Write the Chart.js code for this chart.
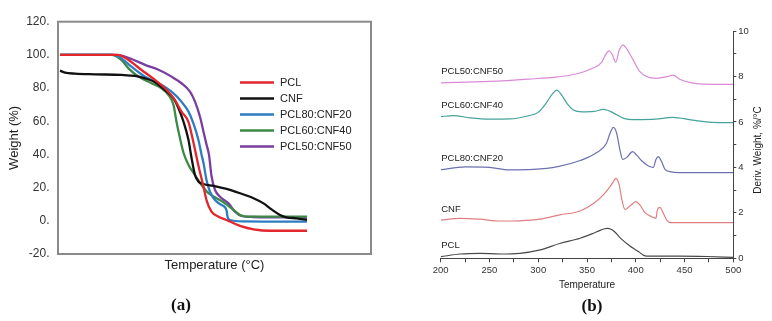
<!DOCTYPE html>
<html><head><meta charset="utf-8">
<script src="https://cdn.jsdelivr.net/npm/chart.js@4.4.1/dist/chart.umd.min.js"></script>
<style>
html,body{margin:0;padding:0;background:#fff;}
#wrap{position:relative;width:772px;height:321px;overflow:hidden;background:#fff;}
#boxA{position:absolute;left:0;top:0;width:390px;height:321px;}
#boxB{position:absolute;left:390px;top:0;width:382px;height:321px;}
.panel{position:absolute;font-family:"Liberation Serif","Times New Roman",serif;font-weight:bold;font-size:17px;color:#111;transform:translate(-50%,-50%);white-space:nowrap;}
</style></head><body>
<div id="wrap">
<div id="boxA"><canvas id="cA" width="390" height="321"></canvas></div>
<div id="boxB"><canvas id="cB" width="382" height="321"></canvas></div>
<div class="panel" style="left:181px;top:305px">(a)</div>
<div class="panel" style="left:592px;top:306px">(b)</div>
</div>
<script>
// ---------- Panel (a): TGA ----------
const tgaNames = ['PCL', 'CNF', 'PCL80:CNF20', 'PCL60:CNF40', 'PCL50:CNF50'];
const tgaColors = ['#e2262c', '#111111', '#2e7dc0', '#3d8a47', '#7a3ea1'];
const weightTickLabels = ['-20.', '0.', '20.', '40.', '60.', '80.', '100.', '120.'];

const pclTemp = [24, 140, 161, 187, 214, 234, 254, 267, 281, 291, 301, 311, 317, 327, 341, 357, 384, 411, 444, 518];
const pclWeight = [100, 100, 96.9, 90.9, 84.9, 79.9, 72.8, 65.8, 59.5, 47, 33, 20.6, 12.5, 5.5, 2.5, 0.5, -3.1, -5.1, -6, -6];

const cnfTemp = [24, 34, 54, 94, 147, 174, 194, 214, 234, 251, 261, 271, 281, 287, 294, 301, 311, 331, 357, 384, 411, 431, 447, 464, 477, 497, 518];
const cnfWeight = [90.5, 89.3, 88.7, 88.3, 87.9, 87.3, 85.9, 83.5, 78.8, 73.8, 67.8, 59.7, 48.7, 38, 27.6, 23.6, 22.2, 21, 19.2, 16.6, 13.6, 10.5, 6.9, 3.5, 2.1, 1.5, 0.5];

const pcl80Temp = [24, 130, 147, 167, 194, 221, 247, 267, 281, 291, 301, 307, 311, 317, 324, 334, 347, 357, 359, 364, 391, 518];
const pcl80Weight = [100, 100, 97.9, 92.9, 86.9, 82.9, 77.8, 71.8, 65.8, 58.5, 48.5, 40, 34.8, 24.6, 17.5, 12.5, 9.5, 6.5, 2.5, 0.5, -0.3, -0.5];

const pcl60Temp = [24, 127, 147, 161, 181, 207, 227, 241, 251, 257, 264, 271, 281, 294, 307, 321, 337, 354, 371, 384, 404, 518];
const pcl60Weight = [100, 100, 96.9, 91.9, 86.9, 82.9, 79.9, 75.8, 69.8, 59.7, 49.7, 41, 33.6, 27.6, 21.6, 16.6, 13.6, 10.6, 6.5, 3.5, 2.5, 2.5];

const pcl50Temp = [24, 134, 147, 167, 194, 221, 247, 267, 284, 294, 304, 311, 317, 322, 327, 334, 344, 361, 374, 387, 410, 518];
const pcl50Weight = [100, 100, 99.5, 97.5, 94, 91, 86.9, 82.9, 77.8, 71.8, 62.7, 53.7, 46, 39.7, 27, 18.6, 14.5, 10.5, 5.5, 2.9, 2.3, 2.0];

// ---------- Panel (b): DTG ----------
const dtgNames = ['PCL50:CNF50', 'PCL60:CNF40', 'PCL80:CNF20', 'CNF', 'PCL'];
const dtgColors = ['#d98ad7', '#45a29c', '#6c70ae', '#e07f80', '#4a4a4a'];
const tempTickLabels = ['200', '250', '300', '350', '400', '450', '500'];
const derivTickLabels = ['0', '2', '4', '6', '8', '10'];

const dtg5050T = [200, 250, 290, 320, 340, 355, 365, 369, 372.5, 376, 379.5, 383, 387, 391, 397, 404, 411, 421, 432, 438, 445, 455, 469, 500];
const dtg5050V = [7.72, 7.78, 7.88, 7.98, 8.12, 8.35, 8.62, 8.95, 9.13, 8.95, 8.62, 9.15, 9.38, 9.2, 8.75, 8.22, 8.0, 7.92, 7.99, 8.06, 7.88, 7.74, 7.66, 7.65];

const dtg6040T = [200, 213, 230, 250, 271, 290, 300, 308, 314, 319, 324, 330, 336, 345, 357, 367, 377, 387, 400, 420, 438, 458, 478, 500];
const dtg6040V = [6.23, 6.28, 6.18, 6.12, 6.13, 6.27, 6.42, 6.82, 7.2, 7.4, 7.18, 6.78, 6.52, 6.44, 6.46, 6.55, 6.4, 6.17, 6.1, 6.12, 6.2, 6.08, 5.98, 5.97];

const dtg8020T = [200, 225, 250, 270, 295, 320, 343, 360, 370, 373.6, 377, 380.4, 383.8, 386.6, 390.7, 396.8, 401, 406, 413, 418, 420.7, 423.1, 426.5, 430, 435, 445, 500];
const dtg8020V = [3.9, 4.02, 4.0, 3.89, 3.91, 4.03, 4.3, 4.65, 5.06, 5.5, 5.76, 5.5, 4.76, 4.35, 4.44, 4.69, 4.54, 4.29, 4.06, 4.0, 4.35, 4.47, 4.25, 3.91, 3.81, 3.77, 3.77];

const dtgCnfT = [200, 220, 240, 261, 281, 302, 322, 343, 357, 367, 373.6, 377, 379.7, 383.1, 385.5, 389, 394, 400.2, 404.3, 409.5, 416.3, 420.7, 422.1, 424.8, 428.2, 431.7, 436.8, 500];
const dtgCnfV = [1.68, 1.76, 1.72, 1.64, 1.65, 1.72, 1.91, 2.08, 2.42, 2.8, 3.15, 3.37, 3.52, 3.22, 2.64, 2.15, 2.3, 2.49, 2.34, 2.01, 1.83, 1.76, 2.12, 2.24, 1.98, 1.68, 1.57, 1.57];

const dtgPclT = [200, 220, 240, 261, 281, 302, 322, 343, 356.5, 364, 368, 371, 374, 378, 384, 394, 399.2, 404.3, 407.7, 411.2, 445, 473, 500];
const dtgPclV = [0.07, 0.19, 0.22, 0.19, 0.22, 0.37, 0.65, 0.88, 1.1, 1.24, 1.3, 1.32, 1.29, 1.18, 0.9, 0.54, 0.39, 0.25, 0.14, 0.1, 0.1, 0.08, 0.04];

const FONT = '"Liberation Sans", Arial, sans-serif';
const toPts = (xs, ys) => xs.map((x, i) => ({x: x, y: ys[i]}));

const tgaX = [pclTemp, cnfTemp, pcl80Temp, pcl60Temp, pcl50Temp];
const tgaY = [pclWeight, cnfWeight, pcl80Weight, pcl60Weight, pcl50Weight];

const frameA = {
  id: 'frameA',
  beforeDatasetsDraw(chart) {
    const {ctx, chartArea: a} = chart;
    ctx.save();
    ctx.strokeStyle = '#8a8a8a';
    ctx.lineWidth = 2;
    ctx.strokeRect(a.left, a.top, a.right - a.left, a.bottom - a.top);
    ctx.restore();
  }
};
const legendA = {
  id: 'legendA',
  afterDraw(chart) {
    const {ctx} = chart;
    ctx.save();
    ctx.font = '11px ' + FONT;
    ctx.textBaseline = 'middle';
    chart.data.datasets.forEach((ds, i) => {
      const y = 82.5 + i * 16;
      ctx.strokeStyle = ds.borderColor;
      ctx.lineWidth = 2.5;
      ctx.beginPath(); ctx.moveTo(240, y); ctx.lineTo(274, y); ctx.stroke();
      ctx.fillStyle = '#222';
      ctx.fillText(ds.label, 280, y + 0.5);
    });
    ctx.restore();
  }
};

new Chart(document.getElementById('cA'), {
  type: 'line',
  data: {
    datasets: tgaNames.map((n, i) => ({
      label: n, data: toPts(tgaX[i], tgaY[i]), borderColor: tgaColors[i],
      borderWidth: 2.3, pointRadius: 0, fill: false, cubicInterpolationMode: 'monotone'
    }))
  },
  options: {
    responsive: false, animation: false, devicePixelRatio: 1,
    layout: {padding: {left: 0, right: 19, top: 21.7, bottom: 0}},
    plugins: {legend: {display: false}, tooltip: {enabled: false}},
    scales: {
      x: {
        type: 'linear', min: 20, max: 646,
        ticks: {display: false}, grid: {display: false, drawTicks: false}, border: {display: false},
        title: {display: true, text: 'Temperature (°C)', font: {family: FONT, size: 13}, color: '#222', padding: {top: 0, bottom: 48}},
        afterFit(s) { s.height = 67; }
      },
      y: {
        min: -20, max: 120,
        ticks: {stepSize: 20, callback: (v, i) => weightTickLabels[i], font: {family: FONT, size: 12}, color: '#333', padding: 8.5},
        grid: {display: false, drawTicks: false}, border: {display: false},
        title: {display: true, text: 'Weight (%)', font: {family: FONT, size: 13}, color: '#222', padding: {top: 7, bottom: 0}},
        afterFit(s) { s.width = 58; }
      }
    }
  },
  plugins: [frameA, legendA]
});

const dtgX = [dtg5050T, dtg6040T, dtg8020T, dtgCnfT, dtgPclT];
const dtgY = [dtg5050V, dtg6040V, dtg8020V, dtgCnfV, dtgPclV];

const labelsB = {
  id: 'labelsB',
  afterDraw(chart) {
    const {ctx, chartArea: a, scales} = chart;
    ctx.save();
    ctx.fillStyle = '#222';
    ctx.font = '9.5px ' + FONT;
    ctx.textBaseline = 'middle';
    ctx.textAlign = 'left';
    chart.data.datasets.forEach((ds) => {
      const y = scales.y.getPixelForValue(ds.data[0].y) - 11;
      ctx.fillText(ds.label, a.left + 0.5, y);
    });
    // right axis title, reading bottom-to-top
    ctx.font = '10px ' + FONT;
    ctx.textAlign = 'center';
    ctx.translate(368, 150);
    ctx.rotate(-Math.PI / 2);
    ctx.fillText('Deriv. Weight, %/°C', 0, 0);
    ctx.restore();
  }
};

new Chart(document.getElementById('cB'), {
  type: 'line',
  data: {
    datasets: dtgNames.map((n, i) => ({
      label: n, data: toPts(dtgX[i], dtgY[i]), borderColor: dtgColors[i],
      borderWidth: 1.2, pointRadius: 0, fill: false, cubicInterpolationMode: 'monotone'
    }))
  },
  options: {
    responsive: false, animation: false, devicePixelRatio: 1,
    layout: {padding: {left: 50.7, right: 0, top: 31, bottom: 0}},
    plugins: {legend: {display: false}, tooltip: {enabled: false}},
    scales: {
      x: {
        type: 'linear', min: 200, max: 500, position: 'bottom',
        ticks: {stepSize: 25, autoSkip: false, maxRotation: 0,
          callback: (v) => (v % 50 === 0 ? tempTickLabels[(v - 200) / 50] : ''),
          font: {family: FONT, size: 9.5}, color: '#333', padding: 2},
        grid: {display: true, drawOnChartArea: false, drawTicks: true, tickLength: 4, color: '#444'},
        border: {display: true, color: '#444', width: 1},
        title: {display: true, text: 'Temperature', font: {family: FONT, size: 10}, color: '#222', padding: {top: 0, bottom: 29.3}},
        afterFit(s) { s.height = 62.7; }
      },
      y: {
        position: 'right', min: 0, max: 10,
        ticks: {stepSize: 1, autoSkip: false,
          callback: (v) => (v % 2 === 0 ? derivTickLabels[v / 2] : ''),
          font: {family: FONT, size: 9.5}, color: '#333', padding: 2},
        grid: {display: true, drawOnChartArea: false, drawTicks: true, tickLength: 3, color: '#444'},
        border: {display: true, color: '#444', width: 1},
        afterFit(s) { s.width = 38.7; }
      }
    }
  },
  plugins: [labelsB]
});
</script>
</body></html>
